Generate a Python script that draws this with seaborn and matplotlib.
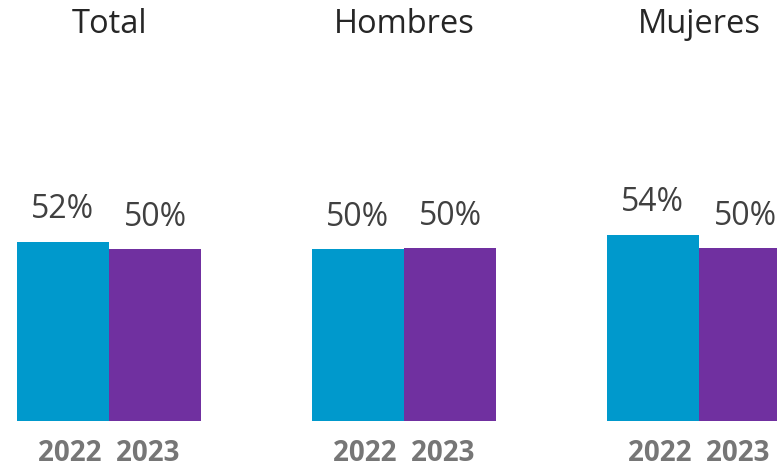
import matplotlib
matplotlib.use("Agg")
import matplotlib.pyplot as plt
import seaborn as sns
import pandas as pd

# Datos
GRUPOS = ["Total", "Hombres", "Mujeres"]
ANIOS = ["2022", "2023"]
VALORES_2022 = [52.0, 49.8, 54.0]
VALORES_2023 = [49.9, 50.0, 50.0]

COLORES = ["#0099CC", "#7030A0"]

sns.set_theme(style="white")
plt.rcParams["font.family"] = ["Open Sans", "DejaVu Sans"]

df = pd.DataFrame({
    "grupo": GRUPOS * 2,
    "anio": [ANIOS[0]] * 3 + [ANIOS[1]] * 3,
    "valor": VALORES_2022 + VALORES_2023,
})

fig = plt.figure(figsize=(7.77, 4.69), dpi=100)
ax = fig.add_axes([0, 48 / 469, 1, 421 / 469])

sns.barplot(data=df, x="grupo", y="valor", hue="anio", order=GRUPOS, hue_order=ANIOS,
            palette=COLORES, width=0.627, saturation=1, gap=0, legend=False,
            linewidth=0, ax=ax)

ax.set_xlim(-109 / 295, (777 - 109) / 295)
ax.set_ylim(0, 122)

# etiquetas de valor sobre cada barra
for cont in ax.containers:
    ax.bar_label(cont, labels=[f"{b.get_height():.0f}%" for b in cont],
                 padding=11, fontsize=23, color="#404040")

# anios bajo cada grupo
ax.set_xticks(range(len(GRUPOS)))
ax.set_xticklabels(["  ".join(ANIOS)] * len(GRUPOS), fontsize=20,
                   fontweight="bold", color="#767676")
ax.tick_params(axis="x", length=0, pad=13)
ax.set_yticks([])
ax.set_xlabel("")
ax.set_ylabel("")

# titulos de grupo
for i, g in enumerate(GRUPOS):
    ax.text(i, 0.942, g, transform=ax.get_xaxis_transform(), ha="center", va="center",
            fontsize=23.5, color="#262626")

sns.despine(ax=ax, left=True, bottom=True)

fig.savefig("out.png", dpi=100)
